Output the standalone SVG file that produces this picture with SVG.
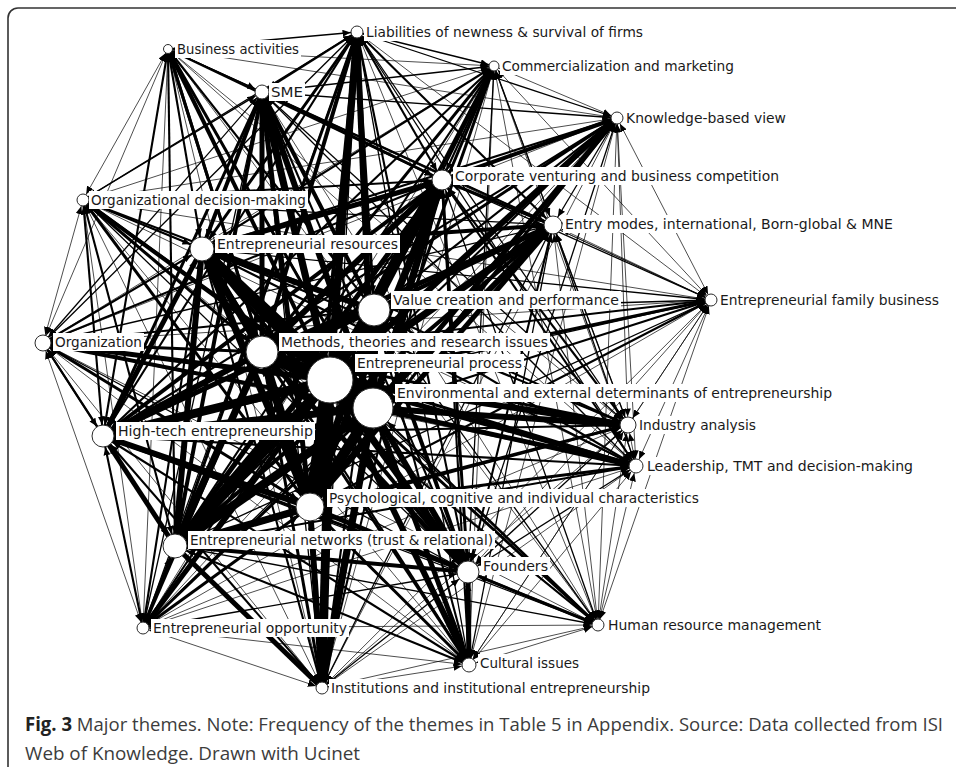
<svg xmlns="http://www.w3.org/2000/svg" width="956" height="767" viewBox="0 0 956 767">
<style>
.E line{stroke:#000;fill:none}
.wa{stroke-width:.7;stroke:#2a2a2a}
.wb{stroke-width:1.3}
.wc{stroke-width:2.1}
.wd{stroke-width:3}
.we{stroke-width:4}
.wf{stroke-width:5}
.wg{stroke-width:6}
.wh{stroke-width:7.2}
.wi{stroke-width:8.8}
.wj{stroke-width:10.5}
.wk{stroke-width:12.5}
.wl{stroke-width:15}
.s4{marker-start:url(#m4)}.s5{marker-start:url(#m5)}.s6{marker-start:url(#m6)}.s7{marker-start:url(#m7)}.s8{marker-start:url(#m8)}.s9{marker-start:url(#m9)}.s10{marker-start:url(#m10)}.s11{marker-start:url(#m11)}.s12{marker-start:url(#m12)}.s14{marker-start:url(#m14)}.s16{marker-start:url(#m16)}.s20{marker-start:url(#m20)}.s23{marker-start:url(#m23)}
.e4{marker-end:url(#m4)}.e5{marker-end:url(#m5)}.e6{marker-end:url(#m6)}.e7{marker-end:url(#m7)}.e8{marker-end:url(#m8)}.e9{marker-end:url(#m9)}.e10{marker-end:url(#m10)}.e11{marker-end:url(#m11)}.e12{marker-end:url(#m12)}.e14{marker-end:url(#m14)}.e16{marker-end:url(#m16)}.e20{marker-end:url(#m20)}.e23{marker-end:url(#m23)}
.ar{fill:#000}
.node circle{fill:#fff;stroke:#2a2a2a;stroke-width:1}
.node rect{fill:#fff}
.node text{font-family:"DejaVu Sans","Liberation Sans",sans-serif;font-size:14px;fill:#1a1a1a}
.frame{fill:none;stroke:#333;stroke-width:1.6}
.cap{font-family:"Open Sans","Liberation Sans",sans-serif;font-size:19px;fill:#3c3c3c}
.cap .b{font-weight:bold;fill:#222}
</style>
<defs>
<marker id="m4" markerUnits="userSpaceOnUse" markerWidth="8" markerHeight="7" refX="13" refY="3.5" orient="auto-start-reverse"><path class="ar" d="M0,0L8,3.5L0,7z"/></marker>
<marker id="m5" markerUnits="userSpaceOnUse" markerWidth="8" markerHeight="7" refX="13.5" refY="3.5" orient="auto-start-reverse"><path class="ar" d="M0,0L8,3.5L0,7z"/></marker>
<marker id="m6" markerUnits="userSpaceOnUse" markerWidth="8" markerHeight="7" refX="14.5" refY="3.5" orient="auto-start-reverse"><path class="ar" d="M0,0L8,3.5L0,7z"/></marker>
<marker id="m7" markerUnits="userSpaceOnUse" markerWidth="8" markerHeight="7" refX="15.5" refY="3.5" orient="auto-start-reverse"><path class="ar" d="M0,0L8,3.5L0,7z"/></marker>
<marker id="m8" markerUnits="userSpaceOnUse" markerWidth="8" markerHeight="7" refX="16.5" refY="3.5" orient="auto-start-reverse"><path class="ar" d="M0,0L8,3.5L0,7z"/></marker>
<marker id="m9" markerUnits="userSpaceOnUse" markerWidth="8" markerHeight="7" refX="17.5" refY="3.5" orient="auto-start-reverse"><path class="ar" d="M0,0L8,3.5L0,7z"/></marker>
<marker id="m10" markerUnits="userSpaceOnUse" markerWidth="8" markerHeight="7" refX="18.5" refY="3.5" orient="auto-start-reverse"><path class="ar" d="M0,0L8,3.5L0,7z"/></marker>
<marker id="m11" markerUnits="userSpaceOnUse" markerWidth="8" markerHeight="7" refX="19.5" refY="3.5" orient="auto-start-reverse"><path class="ar" d="M0,0L8,3.5L0,7z"/></marker>
<marker id="m12" markerUnits="userSpaceOnUse" markerWidth="8" markerHeight="7" refX="20.5" refY="3.5" orient="auto-start-reverse"><path class="ar" d="M0,0L8,3.5L0,7z"/></marker>
<marker id="m14" markerUnits="userSpaceOnUse" markerWidth="8" markerHeight="7" refX="22.5" refY="3.5" orient="auto-start-reverse"><path class="ar" d="M0,0L8,3.5L0,7z"/></marker>
<marker id="m16" markerUnits="userSpaceOnUse" markerWidth="8" markerHeight="7" refX="24.5" refY="3.5" orient="auto-start-reverse"><path class="ar" d="M0,0L8,3.5L0,7z"/></marker>
<marker id="m20" markerUnits="userSpaceOnUse" markerWidth="8" markerHeight="7" refX="28.5" refY="3.5" orient="auto-start-reverse"><path class="ar" d="M0,0L8,3.5L0,7z"/></marker>
<marker id="m23" markerUnits="userSpaceOnUse" markerWidth="8" markerHeight="7" refX="31.5" refY="3.5" orient="auto-start-reverse"><path class="ar" d="M0,0L8,3.5L0,7z"/></marker>
</defs>
<rect width="956" height="767" fill="#fff"/>
<rect class="frame" x="8" y="8" width="970" height="790" rx="10"/>
<g id="connectors" class="E">
<g class="s4">
<line x1="168" y1="49" x2="357" y2="32" class="wb e6"/>
<line x1="168" y1="49" x2="262" y2="92" class="wb e7"/>
<line x1="168" y1="49" x2="494" y2="66" class="wa e5"/>
<line x1="168" y1="49" x2="617" y2="118" class="wa e6"/>
<line x1="168" y1="49" x2="442" y2="180" class="wc e10"/>
<line x1="168" y1="49" x2="83" y2="200" class="wa e6"/>
<line x1="168" y1="49" x2="553" y2="225" class="wb e9"/>
<line x1="168" y1="49" x2="202" y2="249" class="wc e12"/>
<line x1="168" y1="49" x2="374" y2="310" class="wc e16"/>
<line x1="168" y1="49" x2="711" y2="300" class="wa e6"/>
<line x1="168" y1="49" x2="43" y2="343" class="wa e8"/>
<line x1="168" y1="49" x2="262" y2="352" class="wd e16"/>
<line x1="168" y1="49" x2="330" y2="380" class="we e23"/>
<line x1="168" y1="49" x2="373" y2="408" class="wd e20"/>
<line x1="168" y1="49" x2="628" y2="425" class="wa e8"/>
<line x1="168" y1="49" x2="103" y2="436" class="wc e11"/>
<line x1="168" y1="49" x2="636" y2="466" class="wa e7"/>
<line x1="168" y1="49" x2="310" y2="507" class="wd e14"/>
<line x1="168" y1="49" x2="175" y2="546" class="wc e12"/>
<line x1="168" y1="49" x2="468" y2="572" class="wb e11"/>
<line x1="168" y1="49" x2="143" y2="628" class="wa e6"/>
<line x1="168" y1="49" x2="598" y2="625" class="wa e6"/>
<line x1="168" y1="49" x2="469" y2="665" class="wa e7"/>
<line x1="168" y1="49" x2="322" y2="688" class="wa e6"/>
</g>
<g class="s6">
<line x1="357" y1="32" x2="262" y2="92" class="wc e7"/>
<line x1="357" y1="32" x2="494" y2="66" class="wb e5"/>
<line x1="357" y1="32" x2="617" y2="118" class="wb e6"/>
<line x1="357" y1="32" x2="442" y2="180" class="wc e10"/>
<line x1="357" y1="32" x2="83" y2="200" class="wb e6"/>
<line x1="357" y1="32" x2="553" y2="225" class="wc e9"/>
<line x1="357" y1="32" x2="202" y2="249" class="wd e12"/>
<line x1="357" y1="32" x2="374" y2="310" class="wd e16"/>
<line x1="357" y1="32" x2="711" y2="300" class="wa e6"/>
<line x1="357" y1="32" x2="43" y2="343" class="wb e8"/>
<line x1="357" y1="32" x2="262" y2="352" class="we e16"/>
<line x1="357" y1="32" x2="330" y2="380" class="wh e23"/>
<line x1="357" y1="32" x2="373" y2="408" class="wg e20"/>
<line x1="357" y1="32" x2="628" y2="425" class="wb e8"/>
<line x1="357" y1="32" x2="103" y2="436" class="wc e11"/>
<line x1="357" y1="32" x2="636" y2="466" class="wb e7"/>
<line x1="357" y1="32" x2="310" y2="507" class="we e14"/>
<line x1="357" y1="32" x2="175" y2="546" class="wd e12"/>
<line x1="357" y1="32" x2="468" y2="572" class="wc e11"/>
<line x1="357" y1="32" x2="143" y2="628" class="wb e6"/>
<line x1="357" y1="32" x2="598" y2="625" class="wa e6"/>
<line x1="357" y1="32" x2="469" y2="665" class="wb e7"/>
<line x1="357" y1="32" x2="322" y2="688" class="wb e6"/>
</g>
<g class="s7">
<line x1="262" y1="92" x2="494" y2="66" class="wb e5"/>
<line x1="262" y1="92" x2="617" y2="118" class="wb e6"/>
<line x1="262" y1="92" x2="442" y2="180" class="wd e10"/>
<line x1="262" y1="92" x2="83" y2="200" class="wb e6"/>
<line x1="262" y1="92" x2="553" y2="225" class="wc e9"/>
<line x1="262" y1="92" x2="202" y2="249" class="we e12"/>
<line x1="262" y1="92" x2="374" y2="310" class="we e16"/>
<line x1="262" y1="92" x2="711" y2="300" class="wa e6"/>
<line x1="262" y1="92" x2="43" y2="343" class="wb e8"/>
<line x1="262" y1="92" x2="262" y2="352" class="wf e16"/>
<line x1="262" y1="92" x2="330" y2="380" class="wh e23"/>
<line x1="262" y1="92" x2="373" y2="408" class="wg e20"/>
<line x1="262" y1="92" x2="628" y2="425" class="wb e8"/>
<line x1="262" y1="92" x2="103" y2="436" class="wd e11"/>
<line x1="262" y1="92" x2="636" y2="466" class="wb e7"/>
<line x1="262" y1="92" x2="310" y2="507" class="wf e14"/>
<line x1="262" y1="92" x2="175" y2="546" class="we e12"/>
<line x1="262" y1="92" x2="468" y2="572" class="wc e11"/>
<line x1="262" y1="92" x2="143" y2="628" class="wb e6"/>
<line x1="262" y1="92" x2="598" y2="625" class="wa e6"/>
<line x1="262" y1="92" x2="469" y2="665" class="wb e7"/>
<line x1="262" y1="92" x2="322" y2="688" class="wb e6"/>
</g>
<g class="s5">
<line x1="494" y1="66" x2="617" y2="118" class="wa e6"/>
<line x1="494" y1="66" x2="442" y2="180" class="wc e10"/>
<line x1="494" y1="66" x2="83" y2="200" class="wa e6"/>
<line x1="494" y1="66" x2="553" y2="225" class="wb e9"/>
<line x1="494" y1="66" x2="202" y2="249" class="wc e12"/>
<line x1="494" y1="66" x2="374" y2="310" class="wc e16"/>
<line x1="494" y1="66" x2="711" y2="300" class="wa e6"/>
<line x1="494" y1="66" x2="43" y2="343" class="wa e8"/>
<line x1="494" y1="66" x2="262" y2="352" class="wd e16"/>
<line x1="494" y1="66" x2="330" y2="380" class="we e23"/>
<line x1="494" y1="66" x2="373" y2="408" class="wd e20"/>
<line x1="494" y1="66" x2="628" y2="425" class="wa e8"/>
<line x1="494" y1="66" x2="103" y2="436" class="wc e11"/>
<line x1="494" y1="66" x2="636" y2="466" class="wa e7"/>
<line x1="494" y1="66" x2="310" y2="507" class="wd e14"/>
<line x1="494" y1="66" x2="175" y2="546" class="wc e12"/>
<line x1="494" y1="66" x2="468" y2="572" class="wb e11"/>
<line x1="494" y1="66" x2="143" y2="628" class="wa e6"/>
<line x1="494" y1="66" x2="598" y2="625" class="wa e6"/>
<line x1="494" y1="66" x2="469" y2="665" class="wa e7"/>
<line x1="494" y1="66" x2="322" y2="688" class="wa e6"/>
</g>
<g class="s6">
<line x1="617" y1="118" x2="442" y2="180" class="we e10"/>
<line x1="617" y1="118" x2="83" y2="200" class="wa e6"/>
<line x1="617" y1="118" x2="553" y2="225" class="wb e9"/>
<line x1="617" y1="118" x2="202" y2="249" class="wc e12"/>
<line x1="617" y1="118" x2="374" y2="310" class="wc e16"/>
<line x1="617" y1="118" x2="711" y2="300" class="wa e6"/>
<line x1="617" y1="118" x2="43" y2="343" class="wa e8"/>
<line x1="617" y1="118" x2="262" y2="352" class="wd e16"/>
<line x1="617" y1="118" x2="330" y2="380" class="wg e23"/>
<line x1="617" y1="118" x2="373" y2="408" class="wf e20"/>
<line x1="617" y1="118" x2="628" y2="425" class="wa e8"/>
<line x1="617" y1="118" x2="103" y2="436" class="wc e11"/>
<line x1="617" y1="118" x2="636" y2="466" class="wa e7"/>
<line x1="617" y1="118" x2="310" y2="507" class="wd e14"/>
<line x1="617" y1="118" x2="175" y2="546" class="wc e12"/>
<line x1="617" y1="118" x2="468" y2="572" class="wb e11"/>
<line x1="617" y1="118" x2="143" y2="628" class="wa e6"/>
<line x1="617" y1="118" x2="598" y2="625" class="wa e6"/>
<line x1="617" y1="118" x2="469" y2="665" class="wa e7"/>
<line x1="617" y1="118" x2="322" y2="688" class="wa e6"/>
</g>
<g class="s10">
<line x1="442" y1="180" x2="83" y2="200" class="wc e6"/>
<line x1="442" y1="180" x2="553" y2="225" class="wd e9"/>
<line x1="442" y1="180" x2="202" y2="249" class="wf e12"/>
<line x1="442" y1="180" x2="374" y2="310" class="wf e16"/>
<line x1="442" y1="180" x2="711" y2="300" class="wb e6"/>
<line x1="442" y1="180" x2="43" y2="343" class="wc e8"/>
<line x1="442" y1="180" x2="262" y2="352" class="wg e16"/>
<line x1="442" y1="180" x2="330" y2="380" class="wi e23"/>
<line x1="442" y1="180" x2="373" y2="408" class="wh e20"/>
<line x1="442" y1="180" x2="628" y2="425" class="wc e8"/>
<line x1="442" y1="180" x2="103" y2="436" class="we e11"/>
<line x1="442" y1="180" x2="636" y2="466" class="wc e7"/>
<line x1="442" y1="180" x2="310" y2="507" class="wg e14"/>
<line x1="442" y1="180" x2="175" y2="546" class="wf e12"/>
<line x1="442" y1="180" x2="468" y2="572" class="wd e11"/>
<line x1="442" y1="180" x2="143" y2="628" class="wc e6"/>
<line x1="442" y1="180" x2="598" y2="625" class="wb e6"/>
<line x1="442" y1="180" x2="469" y2="665" class="wc e7"/>
<line x1="442" y1="180" x2="322" y2="688" class="wc e6"/>
</g>
<g class="s6">
<line x1="83" y1="200" x2="553" y2="225" class="wb e9"/>
<line x1="83" y1="200" x2="202" y2="249" class="wc e12"/>
<line x1="83" y1="200" x2="374" y2="310" class="wc e16"/>
<line x1="83" y1="200" x2="711" y2="300" class="wa e6"/>
<line x1="83" y1="200" x2="43" y2="343" class="wa e8"/>
<line x1="83" y1="200" x2="262" y2="352" class="wd e16"/>
<line x1="83" y1="200" x2="330" y2="380" class="we e23"/>
<line x1="83" y1="200" x2="373" y2="408" class="wd e20"/>
<line x1="83" y1="200" x2="628" y2="425" class="wa e8"/>
<line x1="83" y1="200" x2="103" y2="436" class="wc e11"/>
<line x1="83" y1="200" x2="636" y2="466" class="wa e7"/>
<line x1="83" y1="200" x2="310" y2="507" class="wd e14"/>
<line x1="83" y1="200" x2="175" y2="546" class="wc e12"/>
<line x1="83" y1="200" x2="468" y2="572" class="wb e11"/>
<line x1="83" y1="200" x2="143" y2="628" class="wa e6"/>
<line x1="83" y1="200" x2="598" y2="625" class="wa e6"/>
<line x1="83" y1="200" x2="469" y2="665" class="wa e7"/>
<line x1="83" y1="200" x2="322" y2="688" class="wa e6"/>
</g>
<g class="s9">
<line x1="553" y1="225" x2="202" y2="249" class="we e12"/>
<line x1="553" y1="225" x2="374" y2="310" class="we e16"/>
<line x1="553" y1="225" x2="711" y2="300" class="wa e6"/>
<line x1="553" y1="225" x2="43" y2="343" class="wb e8"/>
<line x1="553" y1="225" x2="262" y2="352" class="wf e16"/>
<line x1="553" y1="225" x2="330" y2="380" class="wh e23"/>
<line x1="553" y1="225" x2="373" y2="408" class="wg e20"/>
<line x1="553" y1="225" x2="628" y2="425" class="wb e8"/>
<line x1="553" y1="225" x2="103" y2="436" class="wd e11"/>
<line x1="553" y1="225" x2="636" y2="466" class="wb e7"/>
<line x1="553" y1="225" x2="310" y2="507" class="wf e14"/>
<line x1="553" y1="225" x2="175" y2="546" class="we e12"/>
<line x1="553" y1="225" x2="468" y2="572" class="wc e11"/>
<line x1="553" y1="225" x2="143" y2="628" class="wb e6"/>
<line x1="553" y1="225" x2="598" y2="625" class="wa e6"/>
<line x1="553" y1="225" x2="469" y2="665" class="wb e7"/>
<line x1="553" y1="225" x2="322" y2="688" class="wb e6"/>
</g>
<g class="s12">
<line x1="202" y1="249" x2="374" y2="310" class="wg e16"/>
<line x1="202" y1="249" x2="711" y2="300" class="wb e6"/>
<line x1="202" y1="249" x2="43" y2="343" class="wc e8"/>
<line x1="202" y1="249" x2="262" y2="352" class="wh e16"/>
<line x1="202" y1="249" x2="330" y2="380" class="wj e23"/>
<line x1="202" y1="249" x2="373" y2="408" class="wi e20"/>
<line x1="202" y1="249" x2="628" y2="425" class="wc e8"/>
<line x1="202" y1="249" x2="103" y2="436" class="wf e11"/>
<line x1="202" y1="249" x2="636" y2="466" class="wc e7"/>
<line x1="202" y1="249" x2="310" y2="507" class="wh e14"/>
<line x1="202" y1="249" x2="175" y2="546" class="wg e12"/>
<line x1="202" y1="249" x2="468" y2="572" class="we e11"/>
<line x1="202" y1="249" x2="143" y2="628" class="wc e6"/>
<line x1="202" y1="249" x2="598" y2="625" class="wb e6"/>
<line x1="202" y1="249" x2="469" y2="665" class="wc e7"/>
<line x1="202" y1="249" x2="322" y2="688" class="wc e6"/>
</g>
<g class="s16">
<line x1="374" y1="310" x2="711" y2="300" class="wb e6"/>
<line x1="374" y1="310" x2="43" y2="343" class="wc e8"/>
<line x1="374" y1="310" x2="262" y2="352" class="wh e16"/>
<line x1="374" y1="310" x2="330" y2="380" class="wj e23"/>
<line x1="374" y1="310" x2="373" y2="408" class="wi e20"/>
<line x1="374" y1="310" x2="628" y2="425" class="wc e8"/>
<line x1="374" y1="310" x2="103" y2="436" class="wf e11"/>
<line x1="374" y1="310" x2="636" y2="466" class="wc e7"/>
<line x1="374" y1="310" x2="310" y2="507" class="wh e14"/>
<line x1="374" y1="310" x2="175" y2="546" class="wg e12"/>
<line x1="374" y1="310" x2="468" y2="572" class="we e11"/>
<line x1="374" y1="310" x2="143" y2="628" class="wc e6"/>
<line x1="374" y1="310" x2="598" y2="625" class="wb e6"/>
<line x1="374" y1="310" x2="469" y2="665" class="wc e7"/>
<line x1="374" y1="310" x2="322" y2="688" class="wc e6"/>
</g>
<g class="s6">
<line x1="711" y1="300" x2="43" y2="343" class="wa e8"/>
<line x1="711" y1="300" x2="262" y2="352" class="wc e16"/>
<line x1="711" y1="300" x2="330" y2="380" class="wd e23"/>
<line x1="711" y1="300" x2="373" y2="408" class="wc e20"/>
<line x1="711" y1="300" x2="628" y2="425" class="wa e8"/>
<line x1="711" y1="300" x2="103" y2="436" class="wb e11"/>
<line x1="711" y1="300" x2="636" y2="466" class="wa e7"/>
<line x1="711" y1="300" x2="310" y2="507" class="wc e14"/>
<line x1="711" y1="300" x2="175" y2="546" class="wb e12"/>
<line x1="711" y1="300" x2="468" y2="572" class="wa e11"/>
<line x1="711" y1="300" x2="143" y2="628" class="wa e6"/>
<line x1="711" y1="300" x2="598" y2="625" class="wa e6"/>
<line x1="711" y1="300" x2="469" y2="665" class="wa e7"/>
<line x1="711" y1="300" x2="322" y2="688" class="wa e6"/>
</g>
<g class="s8">
<line x1="43" y1="343" x2="262" y2="352" class="wd e16"/>
<line x1="43" y1="343" x2="330" y2="380" class="wf e23"/>
<line x1="43" y1="343" x2="373" y2="408" class="we e20"/>
<line x1="43" y1="343" x2="628" y2="425" class="wa e8"/>
<line x1="43" y1="343" x2="103" y2="436" class="wc e11"/>
<line x1="43" y1="343" x2="636" y2="466" class="wa e7"/>
<line x1="43" y1="343" x2="310" y2="507" class="wd e14"/>
<line x1="43" y1="343" x2="175" y2="546" class="wc e12"/>
<line x1="43" y1="343" x2="468" y2="572" class="wb e11"/>
<line x1="43" y1="343" x2="143" y2="628" class="wa e6"/>
<line x1="43" y1="343" x2="598" y2="625" class="wa e6"/>
<line x1="43" y1="343" x2="469" y2="665" class="wa e7"/>
<line x1="43" y1="343" x2="322" y2="688" class="wa e6"/>
</g>
<g class="s16">
<line x1="262" y1="352" x2="330" y2="380" class="wk e23"/>
<line x1="262" y1="352" x2="373" y2="408" class="wj e20"/>
<line x1="262" y1="352" x2="628" y2="425" class="wd e8"/>
<line x1="262" y1="352" x2="103" y2="436" class="wg e11"/>
<line x1="262" y1="352" x2="636" y2="466" class="wd e7"/>
<line x1="262" y1="352" x2="310" y2="507" class="wi e14"/>
<line x1="262" y1="352" x2="175" y2="546" class="wh e12"/>
<line x1="262" y1="352" x2="468" y2="572" class="wf e11"/>
<line x1="262" y1="352" x2="143" y2="628" class="wd e6"/>
<line x1="262" y1="352" x2="598" y2="625" class="wc e6"/>
<line x1="262" y1="352" x2="469" y2="665" class="wd e7"/>
<line x1="262" y1="352" x2="322" y2="688" class="wd e6"/>
</g>
<g class="s23">
<line x1="330" y1="380" x2="373" y2="408" class="wl e20"/>
<line x1="330" y1="380" x2="628" y2="425" class="wg e8"/>
<line x1="330" y1="380" x2="103" y2="436" class="wi e11"/>
<line x1="330" y1="380" x2="636" y2="466" class="wf e7"/>
<line x1="330" y1="380" x2="310" y2="507" class="wk e14"/>
<line x1="330" y1="380" x2="175" y2="546" class="wj e12"/>
<line x1="330" y1="380" x2="468" y2="572" class="wh e11"/>
<line x1="330" y1="380" x2="143" y2="628" class="wf e6"/>
<line x1="330" y1="380" x2="598" y2="625" class="wd e6"/>
<line x1="330" y1="380" x2="469" y2="665" class="wg e7"/>
<line x1="330" y1="380" x2="322" y2="688" class="wi e6"/>
</g>
<g class="s20">
<line x1="373" y1="408" x2="628" y2="425" class="wg e8"/>
<line x1="373" y1="408" x2="103" y2="436" class="wh e11"/>
<line x1="373" y1="408" x2="636" y2="466" class="wf e7"/>
<line x1="373" y1="408" x2="310" y2="507" class="wj e14"/>
<line x1="373" y1="408" x2="175" y2="546" class="wi e12"/>
<line x1="373" y1="408" x2="468" y2="572" class="wg e11"/>
<line x1="373" y1="408" x2="143" y2="628" class="wd e6"/>
<line x1="373" y1="408" x2="598" y2="625" class="wc e6"/>
<line x1="373" y1="408" x2="469" y2="665" class="wf e7"/>
<line x1="373" y1="408" x2="322" y2="688" class="wh e6"/>
</g>
<g class="s8">
<line x1="628" y1="425" x2="103" y2="436" class="wc e11"/>
<line x1="628" y1="425" x2="636" y2="466" class="wa e7"/>
<line x1="628" y1="425" x2="310" y2="507" class="wd e14"/>
<line x1="628" y1="425" x2="175" y2="546" class="wc e12"/>
<line x1="628" y1="425" x2="468" y2="572" class="wb e11"/>
<line x1="628" y1="425" x2="143" y2="628" class="wa e6"/>
<line x1="628" y1="425" x2="598" y2="625" class="wa e6"/>
<line x1="628" y1="425" x2="469" y2="665" class="wa e7"/>
<line x1="628" y1="425" x2="322" y2="688" class="wa e6"/>
</g>
<g class="s11">
<line x1="103" y1="436" x2="636" y2="466" class="wc e7"/>
<line x1="103" y1="436" x2="310" y2="507" class="wg e14"/>
<line x1="103" y1="436" x2="175" y2="546" class="wf e12"/>
<line x1="103" y1="436" x2="468" y2="572" class="wd e11"/>
<line x1="103" y1="436" x2="143" y2="628" class="wc e6"/>
<line x1="103" y1="436" x2="598" y2="625" class="wb e6"/>
<line x1="103" y1="436" x2="469" y2="665" class="wc e7"/>
<line x1="103" y1="436" x2="322" y2="688" class="wc e6"/>
</g>
<g class="s7">
<line x1="636" y1="466" x2="310" y2="507" class="wd e14"/>
<line x1="636" y1="466" x2="175" y2="546" class="wc e12"/>
<line x1="636" y1="466" x2="468" y2="572" class="wb e11"/>
<line x1="636" y1="466" x2="143" y2="628" class="wa e6"/>
<line x1="636" y1="466" x2="598" y2="625" class="wa e6"/>
<line x1="636" y1="466" x2="469" y2="665" class="wa e7"/>
<line x1="636" y1="466" x2="322" y2="688" class="wa e6"/>
</g>
<g class="s14">
<line x1="310" y1="507" x2="175" y2="546" class="wh e12"/>
<line x1="310" y1="507" x2="468" y2="572" class="wf e11"/>
<line x1="310" y1="507" x2="143" y2="628" class="wd e6"/>
<line x1="310" y1="507" x2="598" y2="625" class="wc e6"/>
<line x1="310" y1="507" x2="469" y2="665" class="wd e7"/>
<line x1="310" y1="507" x2="322" y2="688" class="wg e6"/>
</g>
<g class="s12">
<line x1="175" y1="546" x2="468" y2="572" class="we e11"/>
<line x1="175" y1="546" x2="143" y2="628" class="wd e6"/>
<line x1="175" y1="546" x2="598" y2="625" class="wb e6"/>
<line x1="175" y1="546" x2="469" y2="665" class="wc e7"/>
<line x1="175" y1="546" x2="322" y2="688" class="wf e6"/>
</g>
<g class="s11">
<line x1="468" y1="572" x2="143" y2="628" class="wb e6"/>
<line x1="468" y1="572" x2="598" y2="625" class="wd e6"/>
<line x1="468" y1="572" x2="469" y2="665" class="wf e7"/>
<line x1="468" y1="572" x2="322" y2="688" class="wb e6"/>
</g>
<g class="s6">
<line x1="143" y1="628" x2="598" y2="625" class="wa e6"/>
<line x1="143" y1="628" x2="469" y2="665" class="wa e7"/>
<line x1="143" y1="628" x2="322" y2="688" class="wa e6"/>
<line x1="598" y1="625" x2="469" y2="665" class="wa e7"/>
<line x1="598" y1="625" x2="322" y2="688" class="wa e6"/>
</g>
<g class="s7">
<line x1="469" y1="665" x2="322" y2="688" class="wa e6"/>
</g>
</g>
<g id="n-business-activities" class="node"><circle cx="168" cy="49" r="4.5"/><rect x="175" y="40" width="126" height="18"/><text x="177" y="54" textLength="122" lengthAdjust="spacingAndGlyphs">Business activities</text></g>
<g id="n-liabilities" class="node"><circle cx="357" cy="32" r="6"/><rect x="364" y="23" width="281" height="18"/><text x="366" y="37" textLength="277" lengthAdjust="spacingAndGlyphs">Liabilities of newness &amp; survival of firms</text></g>
<g id="n-sme" class="node"><circle cx="262" cy="92" r="7"/><rect x="269" y="83" width="36" height="18"/><text x="271" y="97" textLength="32" lengthAdjust="spacingAndGlyphs">SME</text></g>
<g id="n-commercialization" class="node"><circle cx="494" cy="66" r="5"/><rect x="500" y="57" width="236" height="18"/><text x="502" y="71" textLength="232" lengthAdjust="spacingAndGlyphs">Commercialization and marketing</text></g>
<g id="n-knowledge" class="node"><circle cx="617" cy="118" r="6"/><rect x="624" y="109" width="164" height="18"/><text x="626" y="123" textLength="160" lengthAdjust="spacingAndGlyphs">Knowledge-based view</text></g>
<g id="n-corporate" class="node"><circle cx="442" cy="180" r="10"/><rect x="453" y="167" width="328" height="18"/><text x="455" y="181" textLength="324" lengthAdjust="spacingAndGlyphs">Corporate venturing and business competition</text></g>
<g id="n-org-decision" class="node"><circle cx="83" cy="200" r="6"/><rect x="89" y="191" width="219" height="18"/><text x="91" y="205" textLength="215" lengthAdjust="spacingAndGlyphs">Organizational decision-making</text></g>
<g id="n-entry" class="node"><circle cx="553" cy="225" r="9"/><rect x="563" y="215" width="332" height="18"/><text x="565" y="229" textLength="328" lengthAdjust="spacingAndGlyphs">Entry modes, international, Born-global &amp; MNE</text></g>
<g id="n-resources" class="node"><circle cx="202" cy="249" r="12"/><rect x="215" y="235" width="185" height="18"/><text x="217" y="249" textLength="181" lengthAdjust="spacingAndGlyphs">Entrepreneurial resources</text></g>
<g id="n-value" class="node"><circle cx="374" cy="310" r="16"/><rect x="391" y="291" width="230" height="18"/><text x="393" y="305" textLength="226" lengthAdjust="spacingAndGlyphs">Value creation and performance</text></g>
<g id="n-family" class="node"><circle cx="711" cy="300" r="6"/><rect x="718" y="291" width="223" height="18"/><text x="720" y="305" textLength="219" lengthAdjust="spacingAndGlyphs">Entrepreneurial family business</text></g>
<g id="n-organization" class="node"><circle cx="43" cy="343" r="8"/><rect x="53" y="333" width="91" height="18"/><text x="55" y="347" textLength="87" lengthAdjust="spacingAndGlyphs">Organization</text></g>
<g id="n-methods" class="node"><circle cx="262" cy="352" r="16"/><rect x="279" y="333" width="271" height="18"/><text x="281" y="347" textLength="267" lengthAdjust="spacingAndGlyphs">Methods, theories and research issues</text></g>
<g id="n-process" class="node"><circle cx="330" cy="380" r="23"/><rect x="355" y="354" width="169" height="18"/><text x="357" y="368" textLength="165" lengthAdjust="spacingAndGlyphs">Entrepreneurial process</text></g>
<g id="n-environmental" class="node"><circle cx="373" cy="408" r="20"/><rect x="395" y="384" width="439" height="18"/><text x="397" y="398" textLength="435" lengthAdjust="spacingAndGlyphs">Environmental and external determinants of entrepreneurship</text></g>
<g id="n-industry" class="node"><circle cx="628" cy="425" r="8"/><rect x="637" y="416" width="121" height="18"/><text x="639" y="430" textLength="117" lengthAdjust="spacingAndGlyphs">Industry analysis</text></g>
<g id="n-hightech" class="node"><circle cx="103" cy="436" r="11"/><rect x="116" y="422" width="199" height="18"/><text x="118" y="436" textLength="195" lengthAdjust="spacingAndGlyphs">High-tech entrepreneurship</text></g>
<g id="n-leadership" class="node"><circle cx="636" cy="466" r="7"/><rect x="645" y="457" width="270" height="18"/><text x="647" y="471" textLength="266" lengthAdjust="spacingAndGlyphs">Leadership, TMT and decision-making</text></g>
<g id="n-psychological" class="node"><circle cx="310" cy="507" r="14"/><rect x="327" y="489" width="374" height="18"/><text x="329" y="503" textLength="370" lengthAdjust="spacingAndGlyphs">Psychological, cognitive and individual characteristics</text></g>
<g id="n-networks" class="node"><circle cx="175" cy="546" r="12"/><rect x="188" y="531" width="307" height="18"/><text x="190" y="545" textLength="303" lengthAdjust="spacingAndGlyphs">Entrepreneurial networks (trust &amp; relational)</text></g>
<g id="n-founders" class="node"><circle cx="468" cy="572" r="11"/><rect x="481" y="557" width="69" height="18"/><text x="483" y="571" textLength="65" lengthAdjust="spacingAndGlyphs">Founders</text></g>
<g id="n-opportunity" class="node"><circle cx="143" cy="628" r="6"/><rect x="151" y="619" width="198" height="18"/><text x="153" y="633" textLength="194" lengthAdjust="spacingAndGlyphs">Entrepreneurial opportunity</text></g>
<g id="n-hrm" class="node"><circle cx="598" cy="625" r="6"/><rect x="606" y="616" width="217" height="18"/><text x="608" y="630" textLength="213" lengthAdjust="spacingAndGlyphs">Human resource management</text></g>
<g id="n-cultural" class="node"><circle cx="469" cy="665" r="7"/><rect x="478" y="654" width="103" height="18"/><text x="480" y="668" textLength="99" lengthAdjust="spacingAndGlyphs">Cultural issues</text></g>
<g id="n-institutions" class="node"><circle cx="322" cy="688" r="6"/><rect x="329" y="679" width="323" height="18"/><text x="331" y="693" textLength="319" lengthAdjust="spacingAndGlyphs">Institutions and institutional entrepreneurship</text></g>
<text class="cap" x="25" y="731" textLength="918" lengthAdjust="spacingAndGlyphs"><tspan class="b">Fig. 3</tspan> Major themes. Note: Frequency of the themes in Table 5 in Appendix. Source: Data collected from ISI</text>
<text class="cap" x="25" y="760" textLength="335" lengthAdjust="spacingAndGlyphs">Web of Knowledge. Drawn with Ucinet</text>
</svg>
